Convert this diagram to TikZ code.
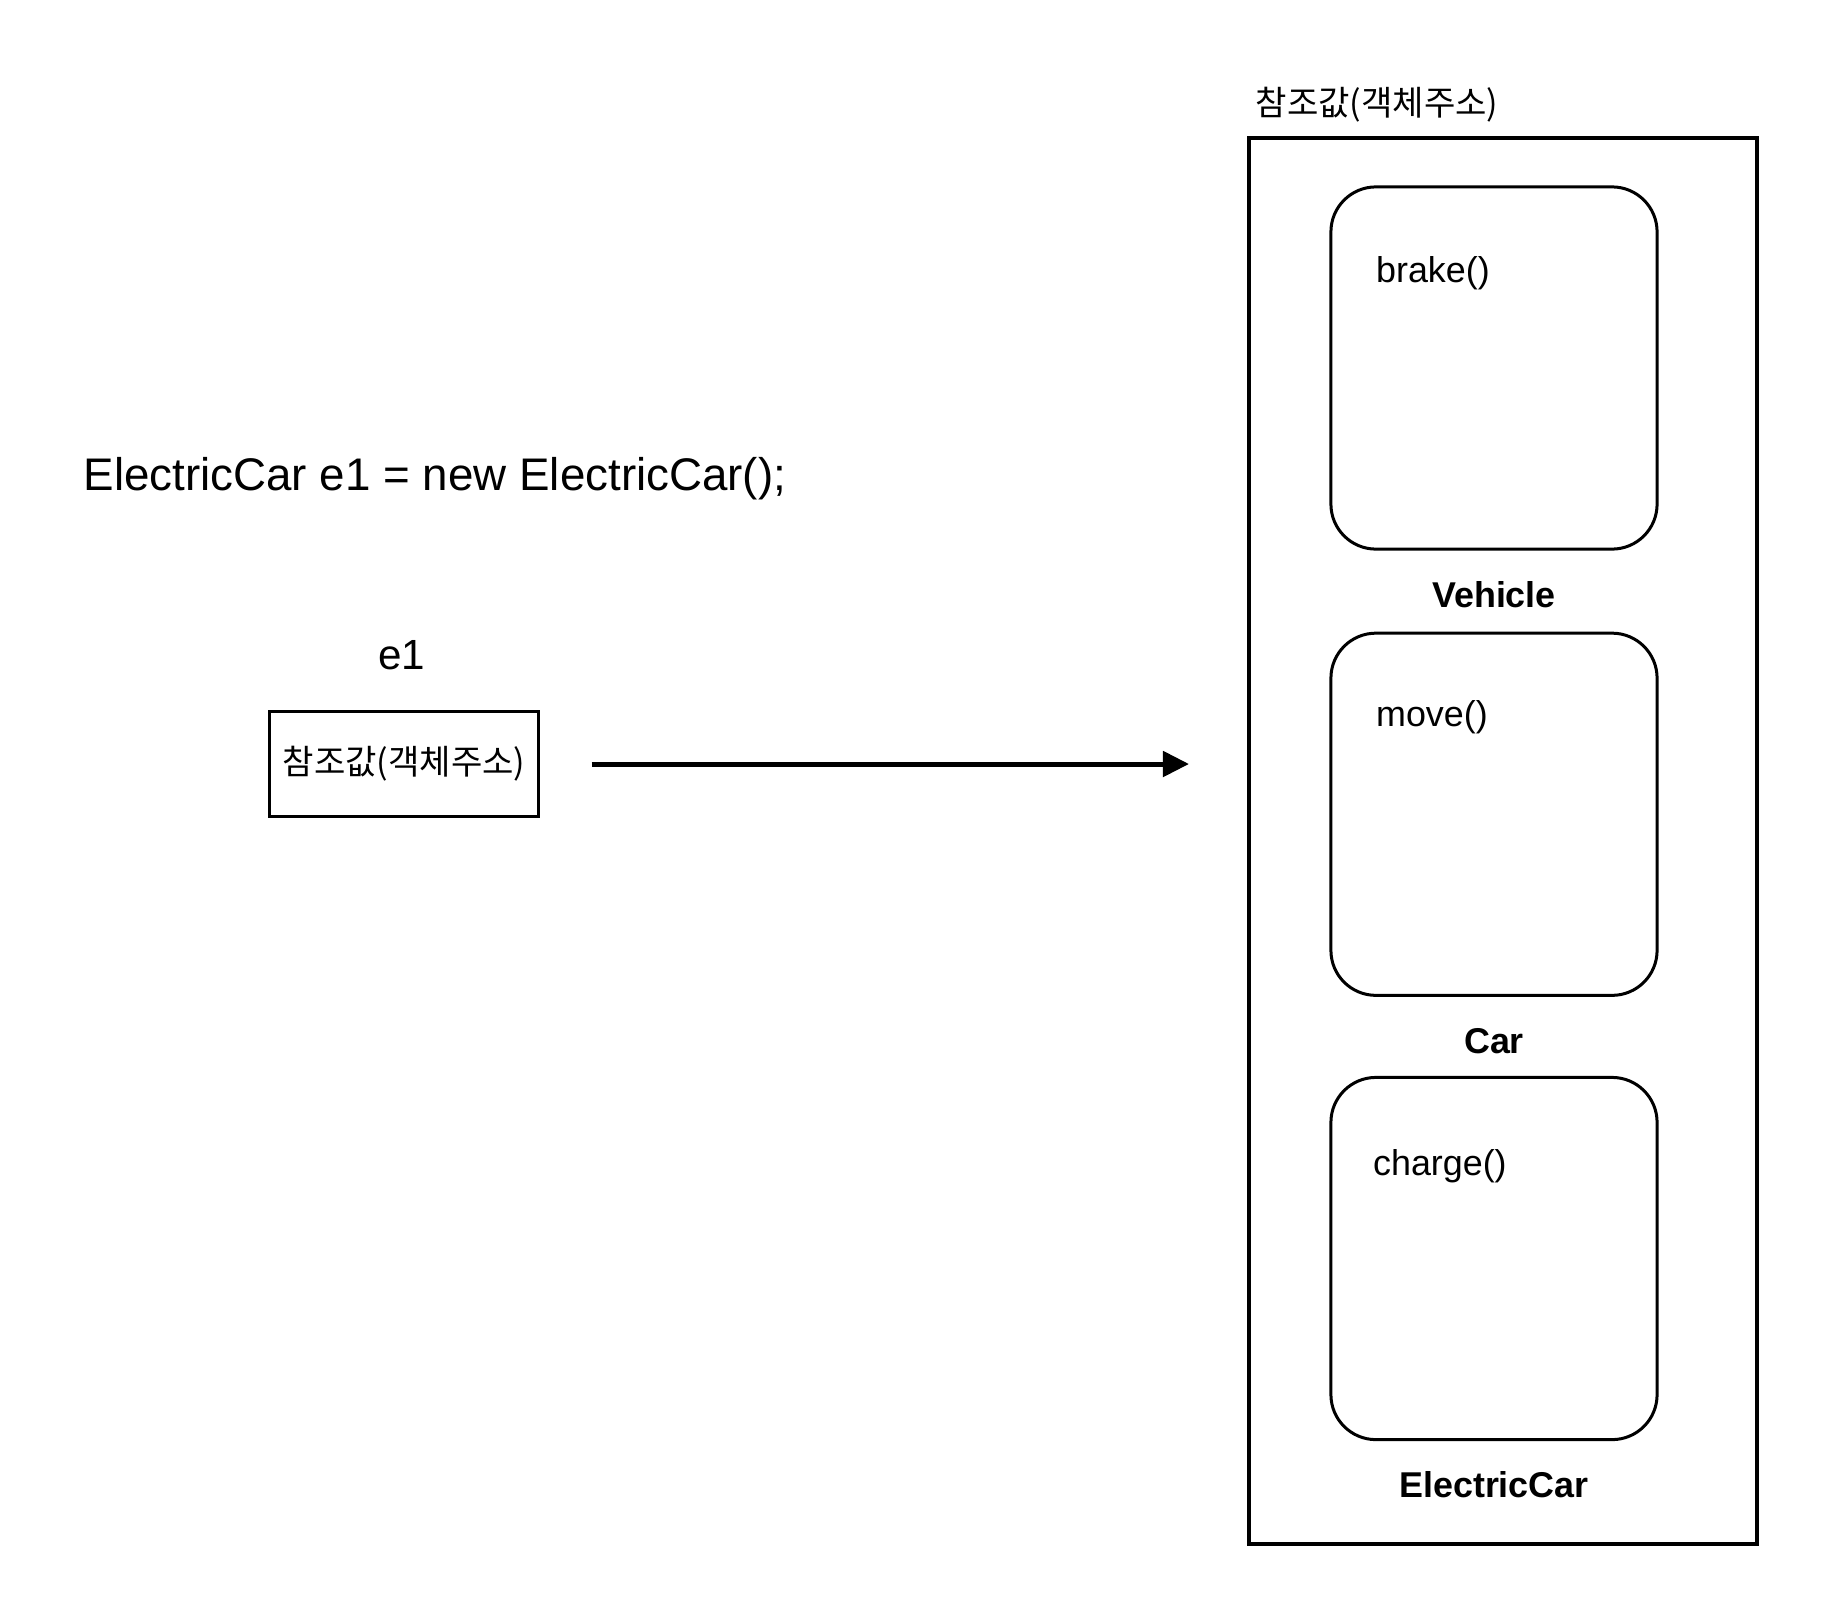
\documentclass[tikz,border=0pt]{standalone}
\usepackage{fontspec}
\setmainfont{Liberation Sans}
\newfontfamily\kr{Noto Sans CJK KR}
\usetikzlibrary{positioning,arrows.meta}

\begin{document}
\begin{tikzpicture}[x=0.01cm, y=-0.01cm,
heap/.style={draw=black, line width=0.04cm, minimum width=5.08cm, minimum height=14.06cm, inner sep=0},
obj/.style={draw=black, line width=0.03cm, rounded corners=0.45cm, minimum width=3.26cm, minimum height=3.62cm, inner sep=0},
refbox/.style={draw=black, line width=0.03cm, minimum width=2.68cm, minimum height=1.04cm, inner sep=0},
method/.style={anchor=west, inner sep=0, font=\fontsize{10.2pt}{12pt}\selectfont},
title/.style={inner sep=0, font=\fontsize{10.2pt}{12pt}\selectfont\bfseries},
korean/.style={inner sep=0, font=\fontsize{9.7pt}{12pt}\selectfont\kr}
]
\useasboundingbox (0,0) rectangle (1833,1621);
%Nodes
\node[heap]      (heap)     at (1503,841)                  {};
\node[korean, anchor=west] (addr) at (1255,105)            {참조값(객체주소)};
\node[obj]       (vehicle)  at (1494,368)                  {};
\node[obj]       (car)      [below=0.81cm of vehicle]      {};
\node[obj]       (ecar)     [below=0.79cm of car]          {};
\node[method]    (brake)    at ([xshift=0.46cm, yshift=-0.88cm]vehicle.north west) {brake()};
\node[method]    (move)     at ([xshift=0.46cm, yshift=-0.86cm]car.north west)     {move()};
\node[method]    (charge)   at ([xshift=0.43cm, yshift=-0.90cm]ecar.north west)    {charge()};
\node[title]     (tvehicle) at ([yshift=-0.44cm]vehicle.south) {Vehicle};
\node[title]     (tcar)     at ([yshift=-0.44cm]car.south)     {Car};
\node[title]     (tecar)    at ([yshift=-0.44cm]ecar.south)    {ElectricCar};
\node[anchor=west, inner sep=0, font=\fontsize{13pt}{15pt}\selectfont] (code) at (83,479) {ElectricCar e1 = new ElectricCar();};
\node[inner sep=0, font=\fontsize{12pt}{14pt}\selectfont] (e1) at (402,655) {e1};
\node[refbox]    (ref)      at (404,764)                   {};
\node[korean]    (reftext)  at (ref)                       {참조값(객체주소)};
\coordinate      (tip)      at (1189,764);
%Lines
\draw[line width=0.05cm, -{Triangle[length=0.26cm, width=0.25cm]}, shorten <=0.52cm] (ref.east) -- (tip);
\end{tikzpicture}
\end{document}
